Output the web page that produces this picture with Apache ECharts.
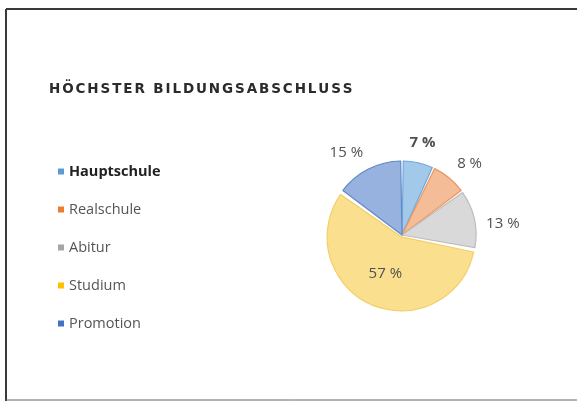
<!DOCTYPE html>
<html>
<head>
<meta charset="utf-8">
<script src="https://cdn.jsdelivr.net/npm/echarts@6/dist/echarts.min.js"></script>
<style>
  html, body { margin: 0; padding: 0; background: #fff; }
  #chart { width: 577px; height: 402px; }
</style>
</head>
<body>
<div id="chart"></div>
<script>
var titleText = 'HÖCHSTER BILDUNGSABSCHLUSS';
var categories = ['Hauptschule', 'Realschule', 'Abitur', 'Studium', 'Promotion'];
var shares = [7, 8, 13, 57, 15];
var fills = ['#a2c8ea', '#f5bc98', '#d9d9d9', '#fae08e', '#97b2de'];
var edges = ['#6ea9dc', '#ee9460', '#bdbdbd', '#f2cf66', '#6189c8'];
var legendColors = ['#5b9bd5', '#ed7d31', '#a5a5a5', '#ffc000', '#4472c4'];
// small angular nudges (degrees) so labels sit where the original put them
var labelNudge = [0, 4, 6, 0, -7];

var cx = 402, cy = 235, pieR = 74;

var myChart = echarts.init(document.getElementById('chart'));

// spread the title letters like the original's tracking
var spacedTitle = titleText.split('').map(function (ch) {
    return '{c|' + ch + '}';
}).join('');

var pieData = categories.map(function (name, i) {
    var item = {
        name: name,
        value: shares[i],
        itemStyle: { color: fills[i], borderColor: edges[i] }
    };
    if (name === 'Studium') {
        item.selected = true;
        item.label = { position: 'inside', offset: [0, 2] };
    }
    if (name === 'Hauptschule') {
        item.label = { fontWeight: 'bold' };
    }
    return item;
});

var total = shares.reduce(function (a, b) { return a + b; }, 0);
var midAngles = [];
var acc = 0;
shares.forEach(function (v, i) {
    midAngles.push((acc + v / 2) / total * Math.PI * 2 + labelNudge[i] * Math.PI / 180);
    acc += v;
});

var option = {
    backgroundColor: '#fff',
    animation: false,
    title: {
        text: spacedTitle,
        left: 43,
        top: 77,
        textStyle: {
            rich: {
                c: {
                    fontFamily: 'DejaVu Sans',
                    fontWeight: 'bold',
                    fontSize: 13.5,
                    color: '#2b2b2b',
                    padding: [0, 0.95, 0, 0.95]
                }
            }
        }
    },
    legend: {
        orient: 'vertical',
        left: 53,
        top: 159,
        itemWidth: 6,
        itemHeight: 6,
        itemGap: 23,
        icon: 'rect',
        itemStyle: { borderWidth: 0 },
        data: categories.map(function (name, i) {
            return { name: name, itemStyle: { color: legendColors[i], borderWidth: 0 } };
        }),
        formatter: function (name) {
            return name === 'Hauptschule' ? '{b|' + name + '}' : name;
        },
        textStyle: {
            fontFamily: 'Open Sans',
            fontSize: 14.5,
            lineHeight: 15,
            color: '#555',
            rich: {
                b: { fontFamily: 'Open Sans', fontSize: 14.5, fontWeight: 'bold', color: '#222' }
            }
        }
    },
    graphic: [
        { type: 'line', shape: { x1: 6, y1: 9, x2: 577, y2: 9 }, style: { stroke: '#3a3a3a', lineWidth: 2 } },
        { type: 'line', shape: { x1: 6, y1: 9, x2: 6, y2: 401 }, style: { stroke: '#3a3a3a', lineWidth: 2 } },
        { type: 'line', shape: { x1: 6, y1: 400, x2: 577, y2: 400 }, style: { stroke: '#666', lineWidth: 1 } }
    ],
    series: [{
        type: 'pie',
        center: [cx, cy],
        radius: pieR,
        startAngle: 90,
        clockwise: true,
        padAngle: 2,
        selectedMode: 'single',
        selectedOffset: 2,
        data: pieData,
        itemStyle: { borderWidth: 1.2 },
        emphasis: { disabled: true },
        label: {
            show: true,
            position: 'outside',
            formatter: '{c} %',
            fontFamily: 'Open Sans',
            fontSize: 15,
            color: '#505050'
        },
        labelLine: { show: false, length: 10, length2: 4 },
        labelLayout: function (params) {
            var i = params.dataIndex;
            if (categories[i] === 'Studium') return {};
            var a = midAngles[i];
            var s = Math.sin(a), c = Math.cos(a);
            var w = params.labelRect.width, h = params.labelRect.height;
            var r = pieR + 10 + Math.abs(s) * w / 2 + Math.abs(c) * h / 2;
            return {
                x: cx + r * s,
                y: cy - r * c,
                align: 'center',
                verticalAlign: 'middle'
            };
        }
    }]
};

myChart.setOption(option);
</script>
</body>
</html>
